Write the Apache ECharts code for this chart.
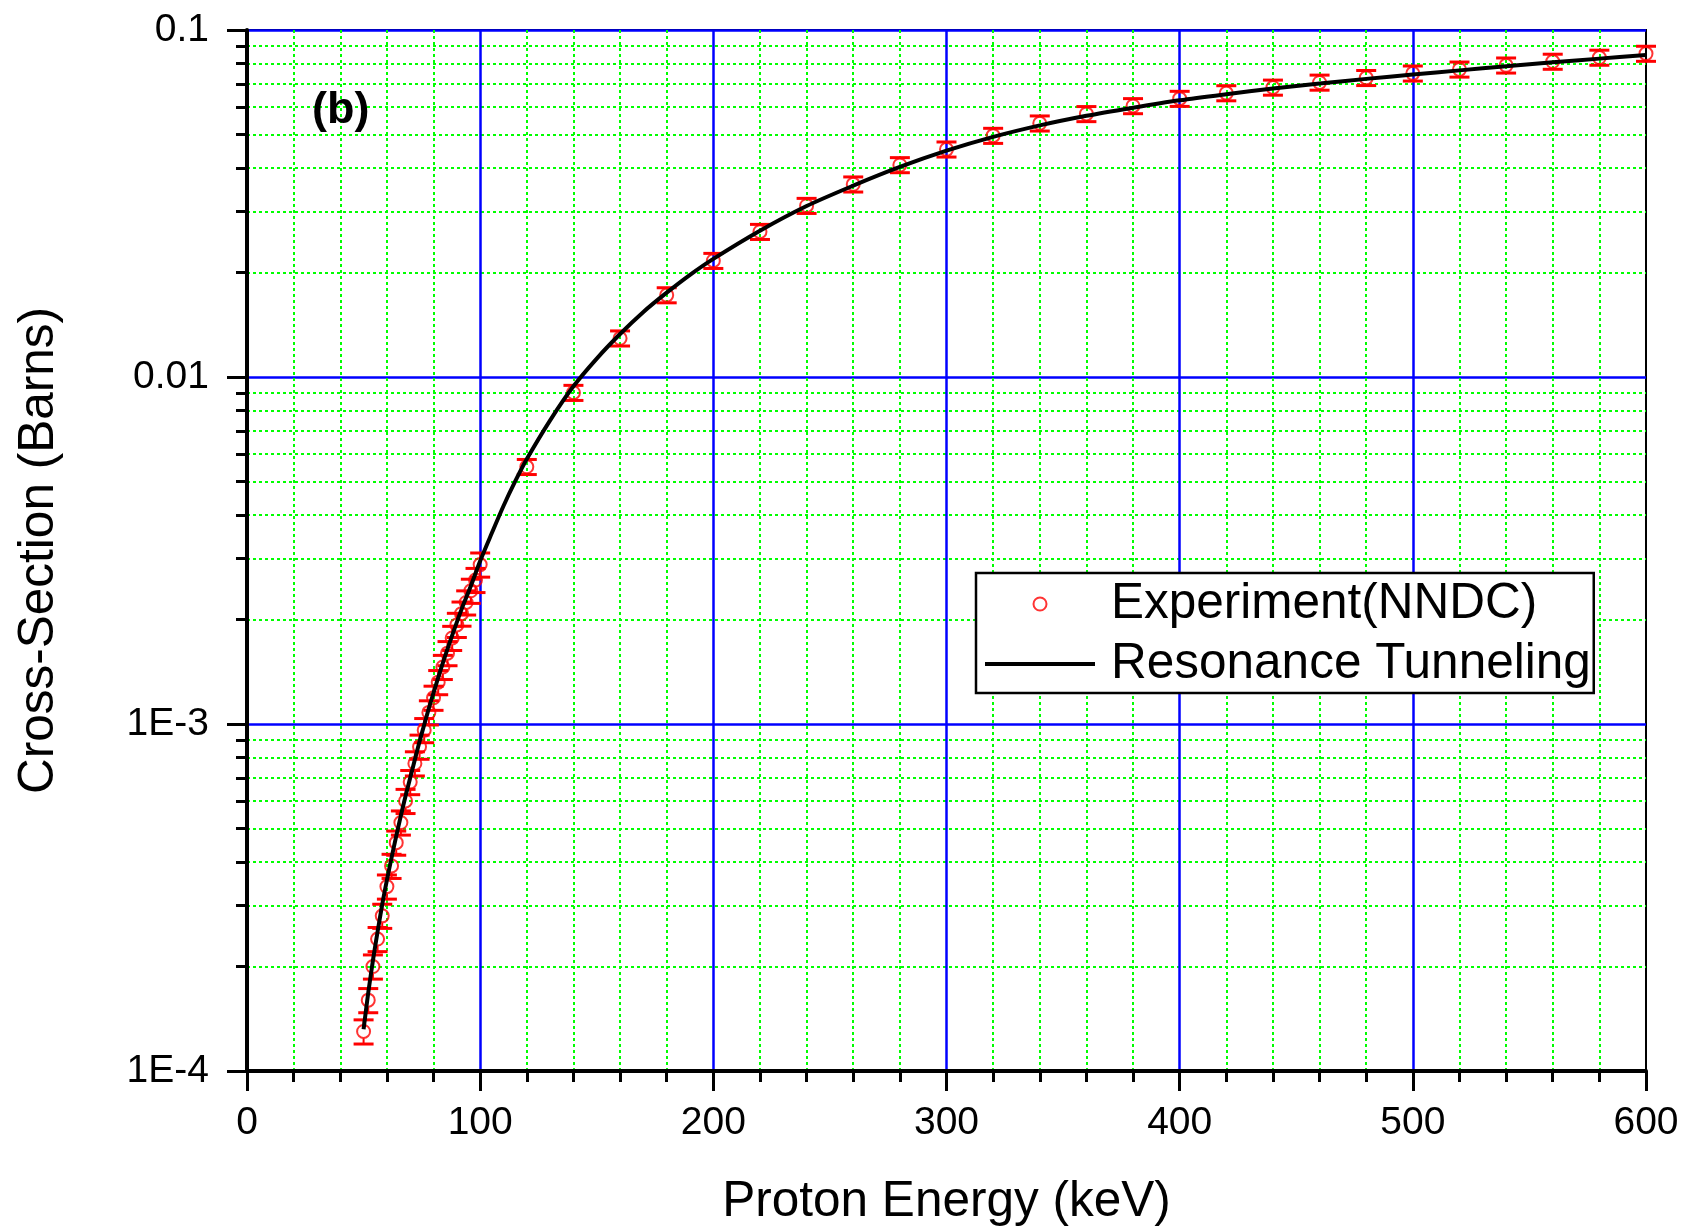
<!DOCTYPE html>
<html>
<head>
<meta charset="utf-8">
<title>Cross-Section vs Proton Energy</title>
<script src="https://cdn.jsdelivr.net/npm/echarts@6/dist/echarts.min.js"></script>
<style>
  html, body { margin: 0; padding: 0; background: #ffffff; }
  #chart { width: 1685px; height: 1229px; }
</style>
</head>
<body>
<div id="chart"></div>
<script>
// Measured cross-sections (NNDC), proton energy in keV, sigma in barns
const expEnergy = [
  50, 52, 54, 56, 58, 60, 62, 64, 66, 68, 70, 72, 74, 76, 78, 80, 82, 84, 86, 88, 90, 92, 94, 96, 98, 100,
  120, 140, 160, 180, 200, 220, 240, 260, 280, 300, 320, 340, 360, 380, 400, 420, 440, 460, 480, 500,
  520, 540, 560, 580, 600
];
const expSigma = [
  1.30e-4, 1.60e-4, 2.00e-4, 2.40e-4, 2.80e-4, 3.40e-4, 3.90e-4, 4.55e-4, 5.20e-4, 6.00e-4,
  6.80e-4, 7.70e-4, 8.60e-4, 9.60e-4, 1.08e-3, 1.19e-3, 1.32e-3, 1.46e-3, 1.60e-3, 1.77e-3,
  1.93e-3, 2.08e-3, 2.24e-3, 2.42e-3, 2.60e-3, 2.88e-3,
  5.51e-3, 9.01e-3, 1.293e-2, 1.722e-2, 2.163e-2, 2.622e-2, 3.116e-2, 3.592e-2, 4.083e-2, 4.530e-2,
  4.960e-2, 5.384e-2, 5.730e-2, 6.040e-2, 6.340e-2, 6.580e-2, 6.830e-2, 7.060e-2, 7.280e-2, 7.500e-2,
  7.700e-2, 7.910e-2, 8.110e-2, 8.330e-2, 8.550e-2
];
// Relative uncertainty of each measurement
const expRelErr = [
  0.08, 0.08, 0.08, 0.08, 0.08, 0.08, 0.08, 0.08, 0.08, 0.08, 0.08, 0.08, 0.08,
  0.08, 0.08, 0.08, 0.08, 0.08, 0.08, 0.08, 0.08, 0.08, 0.08, 0.08, 0.08, 0.08,
  0.05, 0.05, 0.05, 0.05, 0.05, 0.05, 0.05, 0.05, 0.05, 0.05, 0.05, 0.05, 0.05,
  0.05, 0.05, 0.05, 0.05, 0.05, 0.05, 0.05, 0.05, 0.05, 0.05, 0.05, 0.05
];

// Resonance tunneling model curve
const fitEnergy = [
  50, 52, 54, 56, 58, 60, 62, 64, 66, 68, 70, 72, 74, 76, 78, 80, 84, 88, 92, 96, 100,
  105, 110, 115, 120, 130, 140, 150, 160, 170, 180, 190, 200, 220, 240, 260, 280, 300,
  320, 340, 360, 380, 400, 420, 440, 460, 480, 500, 520, 540, 560, 580, 600
];
const fitSigma = [
  1.32e-4, 1.68e-4, 2.08e-4, 2.52e-4, 3.02e-4, 3.55e-4, 4.12e-4, 4.75e-4, 5.45e-4, 6.20e-4,
  7.00e-4, 7.90e-4, 8.90e-4, 9.95e-4, 1.11e-3, 1.23e-3, 1.50e-3, 1.80e-3, 2.14e-3, 2.50e-3, 2.95e-3,
  3.55e-3, 4.25e-3, 5.00e-3, 5.80e-3, 7.50e-3, 9.40e-3, 1.13e-2, 1.33e-2, 1.54e-2, 1.75e-2, 1.97e-2, 2.19e-2,
  2.64e-2, 3.11e-2, 3.56e-2, 4.03e-2, 4.49e-2, 4.92e-2, 5.31e-2, 5.66e-2, 5.97e-2, 6.27e-2,
  6.53e-2, 6.78e-2, 7.01e-2, 7.23e-2, 7.44e-2, 7.65e-2, 7.86e-2, 8.07e-2, 8.27e-2, 8.47e-2
];

const seriesNames = ['Experiment(NNDC)', 'Resonance Tunneling'];

// Axis ticks
const xTickLabels = ['0', '100', '200', '300', '400', '500', '600'];
const yTickLabels = ['1E-4', '1E-3', '0.01', '0.1'];
const yMinorTicks = [
  2e-4, 3e-4, 4e-4, 5e-4, 6e-4, 7e-4, 8e-4, 9e-4,
  2e-3, 3e-3, 4e-3, 5e-3, 6e-3, 7e-3, 8e-3, 9e-3,
  2e-2, 3e-2, 4e-2, 5e-2, 6e-2, 7e-2, 8e-2, 9e-2
];

const FONT = "'Liberation Sans', Arial, Helvetica, sans-serif";
const BLUE = '#0000ff';
const GREEN = '#00ff00';
const RED = '#ff0000';

const expPoints = expEnergy.map((e, i) => [e, expSigma[i]]);
const errPoints = expEnergy.map((e, i) => [e, expSigma[i] * (1 - expRelErr[i]), expSigma[i] * (1 + expRelErr[i])]);
const fitPoints = fitEnergy.map((e, i) => [e, fitSigma[i]]);

const chart = echarts.init(document.getElementById('chart'), null, { renderer: 'canvas' });

const option = {
  animation: false,
  backgroundColor: '#ffffff',
  textStyle: { fontFamily: FONT },
  grid: {
    left: 247, top: 30, width: 1399, height: 1041,
    outerBoundsMode: 'none', containLabel: false,
    show: true, borderColor: '#000', borderWidth: 2, backgroundColor: 'transparent'
  },
  xAxis: {
    type: 'value', min: 0, max: 600, interval: 100,
    name: 'Proton Energy (keV)', nameLocation: 'middle', nameGap: 106,
    nameTextStyle: { fontSize: 49.5, color: '#000', fontFamily: FONT },
    axisLine: { show: true, onZero: false, lineStyle: { color: '#000', width: 4 } },
    axisTick: { show: true, length: 20, lineStyle: { color: '#000', width: 3 } },
    minorTick: { show: true, splitNumber: 5, length: 11, lineStyle: { color: '#000', width: 3 } },
    axisLabel: {
      fontSize: 39, color: '#000', margin: 33, fontFamily: FONT,
      formatter: (v) => xTickLabels[Math.round(v / 100)]
    },
    splitLine: { show: true, showMinLine: false, showMaxLine: false, lineStyle: { color: BLUE, width: 2.5 } },
    minorSplitLine: { show: true, lineStyle: { color: GREEN, width: 2, type: [3, 3] } }
  },
  yAxis: [
    {
      type: 'log', logBase: 10, min: 1e-4, max: 0.1,
      name: 'Cross-Section (Barns)', nameLocation: 'middle', nameGap: 183,
      nameTextStyle: { fontSize: 49.5, color: '#000', fontFamily: FONT },
      axisLine: { show: true, onZero: false, lineStyle: { color: '#000', width: 4 } },
      axisTick: { show: true, length: 20, lineStyle: { color: '#000', width: 3 } },
      axisLabel: {
        fontSize: 39, color: '#000', margin: 38, fontFamily: FONT,
        formatter: (v) => yTickLabels[Math.round(Math.log10(v)) + 4]
      },
      splitLine: { show: true, showMinLine: false, showMaxLine: false, lineStyle: { color: BLUE, width: 2.5 } }
    },
    {
      type: 'log', logBase: 10, min: 1e-4, max: 0.1, position: 'left', offset: 0,
      axisLine: { show: false },
      axisTick: { show: true, length: 11, customValues: yMinorTicks, lineStyle: { color: '#000', width: 3 } },
      axisLabel: { show: false },
      splitLine: { show: true, lineStyle: { color: GREEN, width: 2, type: [3, 3] } }
    }
  ],
  legend: {
    data: [
      { name: seriesNames[0] },
      { name: seriesNames[1], itemStyle: { color: 'rgba(0,0,0,0)', borderWidth: 0, opacity: 0 } }
    ],
    orient: 'vertical',
    left: 976, top: 573,
    itemWidth: 110, itemHeight: 13, itemGap: 10,
    padding: [6, 3, 4, 7],
    backgroundColor: '#ffffff',
    borderColor: '#000', borderWidth: 2.5, borderRadius: 0,
    selectedMode: false,
    lineStyle: { width: 4 },
    textStyle: { fontSize: 49.5, lineHeight: 49, color: '#000', fontFamily: FONT, padding: [0, 0, 0, 11] }
  },
  graphic: [
    {
      type: 'text', left: 312, top: 88, z: 10,
      style: { text: '(b)', fontSize: 45, fontWeight: 'bold', fontFamily: FONT, fill: '#000' }
    }
  ],
  series: [
    {
      type: 'custom', name: 'error', data: errPoints, z: 3, silent: true,
      encode: { x: 0, y: [1, 2] },
      renderItem: (params, api) => {
        const x = api.value(0);
        const lo = api.coord([x, api.value(1)]);
        const hi = api.coord([x, api.value(2)]);
        const c = api.coord([x, Math.sqrt(api.value(1) * api.value(2))]);
        const r = 6.5, hw = 10;
        const thin = { stroke: RED, lineWidth: 2 };
        const thick = { stroke: RED, lineWidth: 3 };
        const kids = [
          { type: 'line', shape: { x1: lo[0] - hw, y1: lo[1], x2: lo[0] + hw, y2: lo[1] }, style: thick },
          { type: 'line', shape: { x1: hi[0] - hw, y1: hi[1], x2: hi[0] + hw, y2: hi[1] }, style: thick }
        ];
        if (lo[1] - c[1] > r) kids.push({ type: 'line', shape: { x1: c[0], y1: c[1] + r, x2: lo[0], y2: lo[1] }, style: thin });
        if (c[1] - hi[1] > r) kids.push({ type: 'line', shape: { x1: c[0], y1: c[1] - r, x2: hi[0], y2: hi[1] }, style: thin });
        return { type: 'group', children: kids };
      }
    },
    {
      type: 'scatter', name: seriesNames[0], data: expPoints, z: 3,
      symbol: 'circle', symbolSize: 13,
      itemStyle: { color: 'rgba(255,255,255,0)', borderColor: RED, borderWidth: 2 }
    },
    {
      type: 'line', name: seriesNames[1], data: fitPoints, z: 4,
      symbol: 'none', smooth: 0.3,
      lineStyle: { color: '#000', width: 4 },
      itemStyle: { color: '#000' }
    }
  ]
};

chart.setOption(option);
</script>
</body>
</html>
